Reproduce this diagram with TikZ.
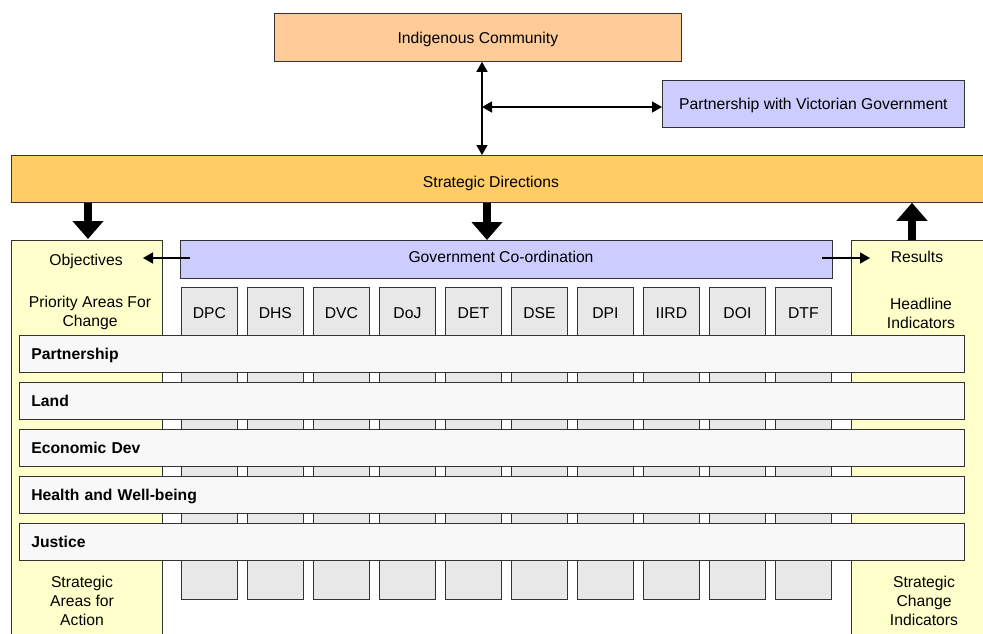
\documentclass[tikz,border=0pt]{standalone}
\usepackage{fontspec}
\setmainfont{Liberation Sans}
\usepackage{tikz}
\usetikzlibrary {arrows.meta, positioning}
\definecolor{peach}{HTML}{FFCC99}
\definecolor{amber}{HTML}{FFCC66}
\definecolor{lilac}{HTML}{CCCCFF}
\definecolor{cream}{HTML}{FFFFCC}
\definecolor{deptgray}{HTML}{E8E8E8}
\definecolor{rowgray}{HTML}{F8F8F8}
\newcommand{\diagfont}{\fontsize{15.7}{19}\selectfont}
\tikzset{
	box/.style = {draw=black!80, line width=0.8pt, inner sep=0pt, anchor=north west},
	rowbox/.style = {box, fill=rowgray, minimum height=37pt, text width=921pt, text depth=0pt, inner xsep=12pt, align=left, font=\diagfont\bfseries},
	thin arrow/.style = {line width=1.5pt, arrows = {-Triangle[width=11pt, length=10pt]}},
	duo arrow/.style = {line width=1.5pt, arrows = {Triangle[width=11pt, length=10pt]-Triangle[width=11pt, length=10pt]}},
	fat arrow/.style = {line width=8pt, arrows = {-Triangle[width=30pt, length=18pt]}},
}

\begin{document}
\begin{tikzpicture}[x=1pt, y=-1pt, font=\diagfont]
		\clip (0,0) rectangle (983,633);
		\node[box, fill=peach, minimum width=407pt, minimum height=48pt, text depth=0pt] (community) at (274,13) {Indigenous Community};
		\node[box, fill=lilac, minimum width=302pt, minimum height=47pt, text depth=0pt] (partner) at (662,80) {Partnership with Victorian Government};
		\node[box, fill=amber, minimum width=980pt, minimum height=47pt] (directions) at (11,155) {};
		\node (directionslabel) at (491,183) {Strategic Directions};

		% side columns
		\node[box, fill=cream, minimum width=151pt, minimum height=420pt] (objcol) at (11,240) {};
		\node[box, fill=cream, minimum width=160pt, minimum height=420pt] (rescol) at (851,240) {};
		\node[box, fill=lilac, minimum width=652pt, minimum height=38pt] (gov) at (180,240) {};
		\node (govlabel) at (501,257) {Government Co-ordination};

		\foreach \d [count=\i from 0] in {DPC, DHS, DVC, DoJ, DET, DSE, DPI, IIRD, DOI, DTF} {
			\node[box, fill=deptgray, minimum width=56pt, minimum height=312pt] (dept\i) at (181+66*\i, 287) {};
			\node (deptname\i) at ([yshift=-26pt]dept\i.north) {\d};
		}
		\foreach \r [count=\i from 0] in {Partnership, Land, Economic Dev, Health and Well-being, Justice}
			\node[rowbox] (row\i) at (19, 335+47*\i) {\r};

		\node (objlabel) at (86,261) {Objectives};
		\node[align=center] (prioritylabel) at (90,313) {Priority Areas For\\Change};
		\node[align=center] (actionlabel) at (82,601) {Strategic\\Areas for\\Action};
		\node (reslabel) at (917,257) {Results};
		\node[align=center] (headlabel) at (921,313) {Headline\\Indicators};
		\node[align=center] (changelabel) at (924,601) {Strategic\\Change\\Indicators};

		% connectors
		\coordinate (hub) at (482,107);
		\draw[duo arrow] (community.south -| hub) -- (directions.north -| hub);
		\draw[duo arrow] (hub) -- (hub -| partner.west);
		\coordinate (objtop) at (88,239);
		\coordinate (govtop) at (487,240);
		\coordinate (restop) at (912,240);
		\draw[fat arrow] (directions.south -| objtop) -- (objtop);
		\draw[fat arrow] (directions.south -| govtop) -- (govtop);
		\draw[fat arrow] (restop) -- (directions.south -| restop);
		\coordinate (objin) at (190,258);
		\coordinate (objtip) at (143,258);
		\coordinate (resin) at (822,258);
		\coordinate (restip) at (870,258);
		\draw[thin arrow] (objin) -- (objtip);
		\draw[thin arrow] (resin) -- (restip);
	\end{tikzpicture}
\end{document}
